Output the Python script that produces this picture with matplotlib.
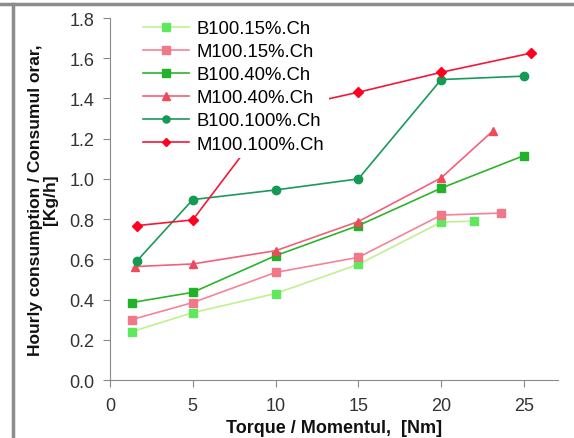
import numpy as np
import matplotlib.pyplot as plt
from matplotlib.lines import Line2D

plt.rcParams['font.family'] = ['Liberation Sans', 'DejaVu Sans']

# torque [Nm] / hourly consumption [kg/h]
x_b15 = [1.3, 5, 10, 15, 20, 22]
y_b15 = [0.24, 0.335, 0.43, 0.575, 0.785, 0.79]
x_m15 = [1.3, 5, 10, 15, 20, 23.6]
y_m15 = [0.30, 0.385, 0.535, 0.61, 0.82, 0.83]
x_b40 = [1.3, 5, 10, 15, 20, 25]
y_b40 = [0.385, 0.436, 0.618, 0.768, 0.954, 1.116]
x_m40 = [1.5, 5, 10, 15, 20, 23.1]
y_m40 = [0.564, 0.577, 0.643, 0.788, 1.005, 1.237]
x_b100 = [1.65, 5, 10, 15, 20, 25]
y_b100 = [0.594, 0.897, 0.945, 1.0, 1.494, 1.511]
x_m100 = [1.65, 5, 10, 15, 20, 25.4]
y_m100 = [0.768, 0.796, 1.34, 1.431, 1.53, 1.625]

labels = ['B100.15%.Ch', 'M100.15%.Ch', 'B100.40%.Ch',
          'M100.40%.Ch', 'B100.100%.Ch', 'M100.100%.Ch']

fig = plt.figure(figsize=(5.74, 4.39), dpi=100)
ax = fig.add_axes([0.1916, 0.1321, 0.7804, 0.8246])

series = [
    (x_b15, y_b15, '#c0f090', '#5ee85e', 's', 6.0),
    (x_m15, y_m15, '#f2849a', '#f07888', 's', 6.0),
    (x_b40, y_b40, '#2cb42c', '#22b22a', 's', 6.0),
    (x_m40, y_m40, '#f2607a', '#ee4a5a', '^', 6.0),
    (x_b100, y_b100, '#1a9a5a', '#149a52', 'o', 6.0),
    (x_m100, y_m100, '#f21838', '#ff0020', 'D', 4.8),
]
for (xs, ys, lc, mc, mk, ms), lab in zip(series, labels):
    ax.plot(xs, ys, color=lc, lw=1.2, marker=mk, ms=ms,
            mfc=mc, mec=mc, label=lab)

ax.set_xlim(0, 27.05)
ax.set_ylim(0, 1.8)
ax.set_xticks([0, 5, 10, 15, 20, 25])
ax.set_yticks(np.arange(0, 1.81, 0.2))
ax.yaxis.set_major_formatter(plt.FormatStrFormatter('%.1f'))
for s in ['top', 'right']:
    ax.spines[s].set_visible(False)
for s in ['left', 'bottom']:
    ax.spines[s].set_color('#8a8a8a')
ax.tick_params(colors='#8a8a8a', labelcolor='#333333', labelsize=13,
               length=5, direction='out')
ax.tick_params(axis='y', pad=6)
ax.tick_params(axis='x', pad=7)

ax.set_xlabel('Torque / Momentul,  [Nm]', fontsize=13, fontweight='bold',
              color='#111111', labelpad=4)
ax.set_ylabel('Hourly consumption / Consumul orar,\n[Kg/h]', fontsize=12.5,
              fontweight='bold', color='#111111', labelpad=8,
              linespacing=1.05)

leg = ax.legend(loc='upper left', bbox_to_anchor=(0.04, 1.035), fontsize=13.3,
                frameon=True, facecolor='white', edgecolor='none',
                framealpha=1.0, handlelength=2.5, labelspacing=0.33,
                handletextpad=0.4, borderpad=0.3, markerscale=0.85)

# outer grey frame of the picture
fig.add_artist(Line2D([0, 1], [1 - 5 / 439] * 2, color='#8c8c8c', lw=2.5,
                      transform=fig.transFigure))
fig.add_artist(Line2D([13 / 574] * 2, [0, 1 - 5 / 439], color='#8c8c8c',
                      lw=2.5, transform=fig.transFigure))

fig.savefig('out.png', dpi=100)
